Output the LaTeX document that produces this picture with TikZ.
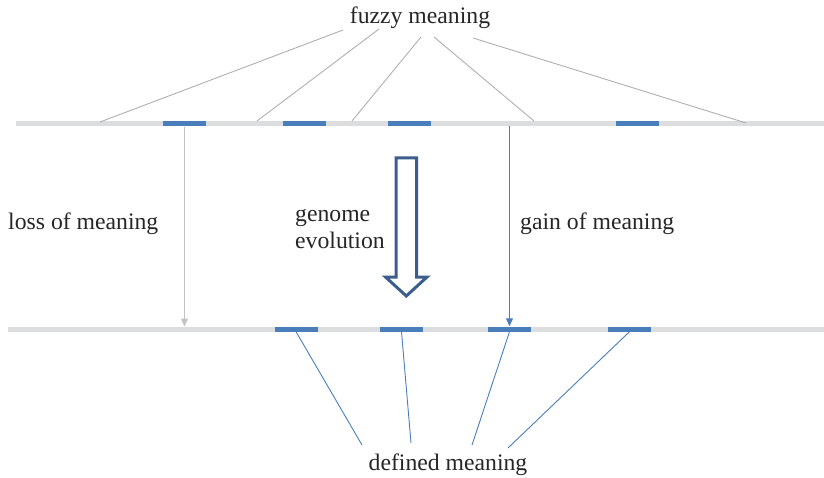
\documentclass[tikz,border=0pt]{standalone}
\usepackage{fontspec}
\setmainfont{Liberation Serif}
\usetikzlibrary{arrows.meta}
\definecolor{bargray}{RGB}{220,221,223}
\definecolor{segblue}{RGB}{74,126,187}
\definecolor{thingray}{RGB}{175,175,175}
\definecolor{arrowgray}{RGB}{195,195,195}
\definecolor{hollowblue}{RGB}{59,94,140}
\definecolor{txt}{RGB}{38,38,38}
\tikzset{
  seg/.style={fill=segblue, draw=none, minimum width=43pt, minimum height=5pt, inner sep=0pt},
  bar/.style={bargray, line width=5pt},
  lbl/.style={text=txt, font=\fontsize{23.7}{28}\selectfont, inner sep=0pt},
  fuzzy/.style={thingray, line width=0.9pt},
  defl/.style={segblue, line width=0.9pt},
  graydown/.style={arrowgray, line width=1pt, -{Triangle[length=8pt,width=7pt]}},
  bluedown/.style={segblue, line width=1pt, -{Triangle[length=8pt,width=7pt]}},
  hollow/.style={draw=hollowblue, line width=3pt, fill=white, line join=miter}
}
\begin{document}
\begin{tikzpicture}[x=1pt,y=-1pt]
\useasboundingbox (0,0) rectangle (824,478);
% bars
\coordinate (topL) at (16,124); \coordinate (topR) at (824,124);
\coordinate (botL) at (8,329); \coordinate (botR) at (824,329);
\draw[bar] (topL) -- (topR);
\draw[bar] (botL) -- (botR);
% segments
\node[seg] (t1) at (184.5,124) {};
\node[seg] (t2) at (304.5,124) {};
\node[seg] (t3) at (409.5,124) {};
\node[seg] (t4) at (637.5,124) {};
\node[seg] (b1) at (296,329) {};
\node[seg] (b2) at (401.5,329) {};
\node[seg] (b3) at (509.5,329) {};
\node[seg] (b4) at (629.5,329) {};
% labels
\node[lbl, anchor=base] (fuzzy) at (420,24) {fuzzy meaning};
\node[lbl, anchor=base west] (loss) at (8,230) {loss of meaning};
\node[lbl, anchor=base west] (gain) at (520,230) {gain of meaning};
\node[lbl, anchor=base] (defined) at (448,470) {defined meaning};
\node[lbl, anchor=base west, align=left] (genome) at (295,249) {genome\\evolution};
% fuzzy lines
\coordinate (f1) at (343,30); \coordinate (g1) at (100,122);
\coordinate (f2) at (379,29); \coordinate (g2) at (257,121);
\coordinate (f3) at (421,37); \coordinate (g3) at (352,121);
\coordinate (f4) at (434,37); \coordinate (g4) at (534,121);
\coordinate (f5) at (473,38); \coordinate (g5) at (746,123);
\draw[fuzzy] (f1) -- (g1);
\draw[fuzzy] (f2) -- (g2);
\draw[fuzzy] (f3) -- (g3);
\draw[fuzzy] (f4) -- (g4);
\draw[fuzzy] (f5) -- (g5);
% vertical arrows
\coordinate (lossend) at (184.5,326.5);
\draw[graydown] (t1.south) -- (lossend);
\coordinate (gainstart) at (509.5,126);
\draw[bluedown] (gainstart) -- (b3.north);
% defined lines
\coordinate (d1) at (362,445);
\coordinate (d2) at (411,443);
\coordinate (d3) at (472,445);
\coordinate (d4) at (508,448);
\draw[defl] (b1.south) -- (d1);
\draw[defl] (b2.south) -- (d2);
\draw[defl] (b3.south) -- (d3);
\draw[defl] (b4.south) -- (d4);
% hollow arrow
\draw[hollow] (396,158) -- (416.5,158) -- (416.5,277) -- (427,277) -- (406.3,296) -- (385.5,277) -- (396,277) -- cycle;
\end{tikzpicture}
\end{document}
